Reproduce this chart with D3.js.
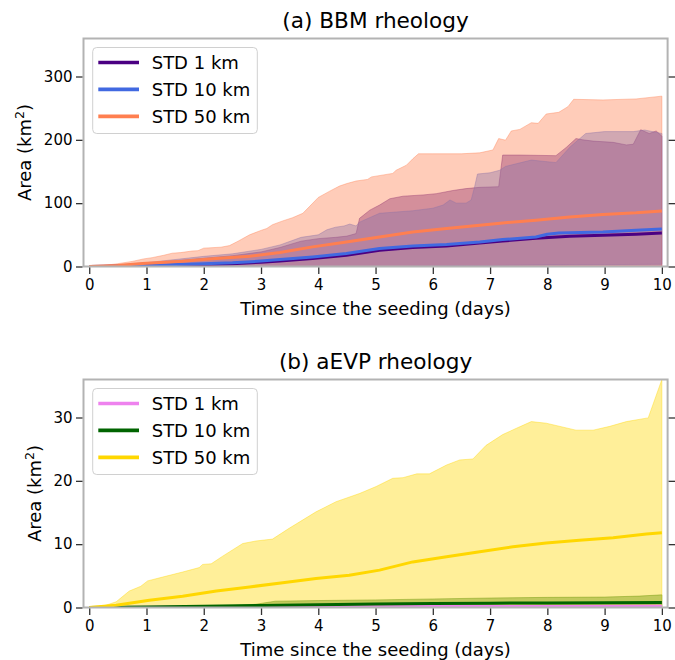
<!DOCTYPE html>
<html>
<head>
<meta charset="utf-8">
<script src="https://d3js.org/d3.v7.min.js"></script>
<style>
  body { margin: 0; background: #fff; }
  text { font-family: "DejaVu Sans", sans-serif; fill: #000; }
</style>
</head>
<body>
<svg id="fig" width="675" height="660"></svg>
<script>
// ---- data: [day, area km²] ----
const xTicks = [0, 1, 2, 3, 4, 5, 6, 7, 8, 9, 10];
const bbmYTicks = [0, 100, 200, 300];
const evpYTicks = [0, 10, 20, 30];

// BBM, STD 1 km
const bbm1Mean = [[0,0],[0.5,0.3],[1,0.8],[1.5,2.1],[2,3.1],[2.5,4.5],[3,6.8],[3.33,8.7],[3.9,12.5],[4.49,17.7],[5.07,25.6],[5.65,29.9],[6.24,32.4],[6.82,37.2],[7.22,40.3],[7.8,44.6],[8.39,47.8],[8.97,49.4],[9.55,51],[10,53]];
const bbm1Upper = [[0,0],[0.5,2],[1,5],[1.5,9],[2,13],[2.5,17],[3,23],[3.33,30],[3.7,40],[4,44],[4.3,46],[4.5,48],[4.66,52],[4.72,76],[4.9,89],[5.07,97],[5.25,107],[5.48,111],[5.83,113],[6.06,115],[6.35,120],[6.58,123],[6.82,125],[7.15,126],[7.22,176],[7.5,176],[8.15,175],[8.33,188],[8.5,202],[8.62,200],[8.8,198],[9.15,196],[9.38,192],[9.5,193],[9.63,216],[9.78,210],[9.9,214],[10,206]];
const bbm1Lower = [[0,0],[10,0]];

// BBM, STD 10 km
const bbm10Mean = [[0,0],[0.5,0.4],[1,1.2],[1.5,3],[2,4.2],[2.5,5.8],[3,8.5],[3.33,10.9],[3.9,15],[4.49,20.4],[5.07,28.3],[5.65,32.4],[6.24,34.7],[6.82,38.8],[7.22,42.5],[7.8,46.7],[8,51],[8.2,53],[8.97,54.6],[9.55,57.3],[10,59.3]];
const bbm10Upper = [[0,0],[0.5,2.5],[1,6],[1.5,11],[2,16],[2.5,20],[3,27],[3.33,34],[3.7,46],[4,50],[4.15,58],[4.3,62],[4.45,64],[4.55,67],[4.66,64],[4.72,70],[5.07,84],[5.65,88],[6,92],[6.18,97],[6.3,105],[6.41,100],[6.58,100],[6.67,105],[6.73,126],[6.78,146],[7,148],[7.17,152],[7.27,158],[7.72,168],[8.15,164],[8.4,189],[8.67,210],[9,213],[9.5,213],[9.7,215.5],[10,210]];
const bbm10Lower = [[0,0],[5.5,0],[6,0.5],[7,1.5],[8,2.5],[9,3],[10,3.5]];

// BBM, STD 50 km
const bbm50Mean = [[0,0],[0.5,1.5],[0.93,4.6],[1.63,8.2],[2.21,12.5],[2.8,16.1],[3.33,22],[3.9,31],[4.49,38.8],[5.07,46.7],[5.65,54.6],[6.24,60],[6.82,65.2],[7.22,68.8],[7.8,73],[8.39,78.3],[8.97,82],[9.55,84.7],[10,87.8]];
const bbm50Upper = [[0,0],[0.25,1.5],[0.5,4.5],[0.75,8],[0.95,12],[1.1,14],[1.3,17.7],[1.45,21],[1.6,22],[1.8,24.5],[1.9,25],[2,29],[2.3,30.5],[2.45,33],[2.6,40],[2.8,50],[3,57],[3.1,60],[3.2,66],[3.38,72],[3.55,77],[3.73,84],[3.85,95],[4,109],[4.2,119],[4.37,127],[4.5,131],[4.66,135],[4.86,137.5],[4.93,141.5],[5.3,147],[5.36,152],[5.54,160],[5.65,170],[5.75,178],[6,178],[6.5,178],[6.82,179.5],[7.05,184],[7.15,202],[7.27,199.5],[7.37,214],[7.52,216.5],[7.72,227],[7.84,226],[7.98,240.8],[8.2,243.5],[8.36,252.4],[8.46,264],[8.97,263],[9.55,264.6],[10,269]];
const bbm50Lower = [[0,0],[10,0]];

// aEVP, STD 1 km
const evp1Mean = [[0,0],[2,0.06],[4,0.1],[6,0.14],[8,0.17],[10,0.2]];
const evp1Upper = [[0,0],[2,0.12],[4,0.22],[6,0.3],[8,0.36],[10,0.45]];
const evp1Lower = [[0,0],[10,0]];

// aEVP, STD 10 km
const evp10Mean = [[0,0],[1,0.08],[2,0.18],[3,0.32],[4,0.45],[5,0.55],[6,0.62],[7,0.68],[8,0.72],[9,0.76],[10,0.8]];
const evp10Upper = [[0,0],[1,0.1],[2,0.2],[2.5,0.3],[2.9,0.5],[3.25,1.0],[4,1.1],[5,1.2],[6,1.35],[7,1.5],[8,1.6],[9,1.65],[9.6,1.8],[10,2.0]];
const evp10Lower = [[0,0],[10,0]];

// aEVP, STD 50 km
const evp50Mean = [[0,0],[0.47,0.35],[1.05,1.14],[1.63,1.77],[2.22,2.6],[2.8,3.25],[3.38,3.9],[3.96,4.57],[4.54,5.1],[5.07,5.9],[5.65,7.2],[6.24,8.0],[6.82,8.8],[7.4,9.6],[7.98,10.2],[8.56,10.6],[9.15,11.0],[9.73,11.6],[10,11.8]];
const evp50Upper = [[0,0],[0.24,0.2],[0.47,0.9],[0.7,2.6],[0.9,3.35],[1.02,4.2],[1.28,4.8],[1.63,5.6],[1.92,6.3],[1.98,6.8],[2.13,6.9],[2.33,8.1],[2.68,10.1],[2.91,10.5],[3.2,10.8],[3.49,12.5],[3.96,15.1],[4.31,16.7],[4.72,18.0],[5.01,19.1],[5.3,20.4],[5.48,20.5],[5.72,21.1],[5.94,21.1],[6.24,22.5],[6.47,23.3],[6.7,23.45],[6.93,25.6],[7.22,27.3],[7.46,28.3],[7.72,29.35],[7.98,29.1],[8.5,28.0],[8.8,28.0],[9.09,28.6],[9.38,29.35],[9.73,29.9],[9.76,29.9],[10,36.0]];
const evp50Lower = [[0,0],[10,0]];

const seriesNames = ["STD 1 km", "STD 10 km", "STD 50 km"];

const panels = [
  {
    title: "(a) BBM rheology", top: 38.5, bottom: 266.5, yMax: 360, yTicks: bbmYTicks, ylabelX: 30.5,
    series: [
      { name: seriesNames[0], color: "#4b0082", mean: bbm1Mean, upper: bbm1Upper, lower: bbm1Lower },
      { name: seriesNames[1], color: "#4169e1", mean: bbm10Mean, upper: bbm10Upper, lower: bbm10Lower },
      { name: seriesNames[2], color: "#ff7f50", mean: bbm50Mean, upper: bbm50Upper, lower: bbm50Lower }
    ]
  },
  {
    title: "(b) aEVP rheology", top: 379.5, bottom: 607.5, yMax: 36, yTicks: evpYTicks, ylabelX: 41,
    series: [
      { name: seriesNames[0], color: "#ee82ee", mean: evp1Mean, upper: evp1Upper, lower: evp1Lower },
      { name: seriesNames[1], color: "#006400", mean: evp10Mean, upper: evp10Upper, lower: evp10Lower },
      { name: seriesNames[2], color: "#ffd700", mean: evp50Mean, upper: evp50Upper, lower: evp50Lower }
    ]
  }
];

const svg = d3.select("#fig");
const left = 83.5, right = 667.6;
const tickLen = 6.5, tickColor = "#333", spineColor = "#b3b3b3";

panels.forEach((p, i) => {
  const x = d3.scaleLinear().domain([-0.1, 10.1]).range([left, right]);
  const y = d3.scaleLinear().domain([0, p.yMax]).range([p.bottom, p.top]);
  const g = svg.append("g");

  const clipId = "clip" + i;
  svg.append("clipPath").attr("id", clipId)
    .append("rect").attr("x", left).attr("y", p.top)
    .attr("width", right - left).attr("height", p.bottom - p.top);

  const line = d3.line().x(d => x(d[0])).y(d => y(d[1]));
  const plot = g.append("g").attr("clip-path", `url(#${clipId})`);

  // shaded spread bands
  p.series.forEach(s => {
    const pts = s.upper.concat(s.lower.slice().reverse());
    plot.append("path")
      .attr("d", line(pts) + "Z")
      .attr("fill", s.color).attr("fill-opacity", 0.4)
      .attr("stroke", s.color).attr("stroke-opacity", 0.4).attr("stroke-width", 1);
  });

  // mean curves
  p.series.forEach(s => {
    plot.append("path")
      .attr("d", line(s.mean))
      .attr("fill", "none").attr("stroke", s.color)
      .attr("stroke-width", 3).attr("stroke-linejoin", "round");
  });

  // frame
  g.append("rect")
    .attr("x", left).attr("y", p.top)
    .attr("width", right - left).attr("height", p.bottom - p.top)
    .attr("fill", "none").attr("stroke", spineColor).attr("stroke-width", 2);

  // bottom axis
  const xAxis = g.append("g").attr("transform", `translate(0,${p.bottom + 1})`)
    .call(d3.axisBottom(x).tickValues(xTicks).tickSize(tickLen).tickPadding(5).tickFormat(d3.format("d")));
  // left axis
  const yAxis = g.append("g").attr("transform", `translate(${left - 1},0)`)
    .call(d3.axisLeft(y).tickValues(p.yTicks).tickSize(tickLen).tickPadding(3.5).tickFormat(d3.format("d")));
  // right axis (ticks only)
  const rAxis = g.append("g").attr("transform", `translate(${right + 1},0)`)
    .call(d3.axisRight(y).tickValues(p.yTicks).tickSize(tickLen).tickFormat(""));

  [xAxis, yAxis, rAxis].forEach(a => {
    a.select(".domain").remove();
    a.selectAll(".tick line").attr("stroke", tickColor).attr("stroke-width", 1.3);
    a.selectAll(".tick text").attr("font-size", 15).attr("fill", "#000")
      .attr("font-family", "DejaVu Sans, sans-serif");
  });

  // title and labels
  g.append("text").attr("x", (left + right) / 2).attr("y", p.top - 10.2)
    .attr("text-anchor", "middle").attr("font-size", 21.6).text(p.title);

  g.append("text").attr("x", (left + right) / 2).attr("y", p.bottom + 48.5)
    .attr("text-anchor", "middle").attr("font-size", 18).text("Time since the seeding (days)");

  const yl = g.append("text")
    .attr("transform", `translate(${p.ylabelX},${(p.top + p.bottom) / 2}) rotate(-90)`)
    .attr("text-anchor", "middle").attr("font-size", 18);
  yl.append("tspan").text("Area (km");
  yl.append("tspan").attr("font-size", 12.6).attr("dy", -7).text("2");
  yl.append("tspan").attr("dy", 7).text(")");

  // legend
  const lg = g.append("g").attr("transform", `translate(${left + 9.2},${p.top + 9})`);
  lg.append("rect").attr("width", 164.6).attr("height", 86).attr("rx", 4)
    .attr("fill", "#fff").attr("fill-opacity", 0.8)
    .attr("stroke", "#d0d0d0").attr("stroke-width", 1);
  p.series.forEach((s, k) => {
    const ly = 15 + k * 26.9;
    lg.append("line").attr("x1", 5.6).attr("x2", 46.3).attr("y1", ly).attr("y2", ly)
      .attr("stroke", s.color).attr("stroke-width", 3.7);
    lg.append("text").attr("x", 59).attr("y", ly + 6.6).attr("font-size", 18).text(s.name);
  });
});
</script>
</body>
</html>
